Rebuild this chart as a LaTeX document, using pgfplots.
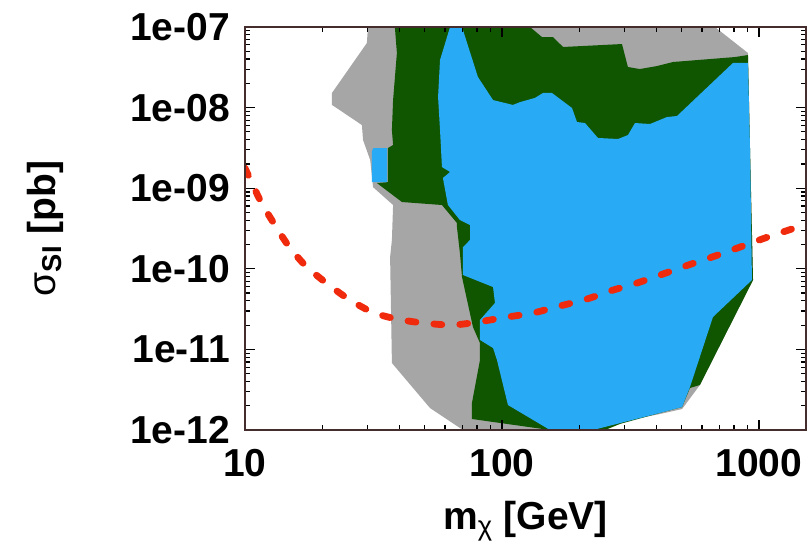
\documentclass[border=0pt]{standalone}
\usepackage{fontspec}
\setmainfont{Liberation Sans}
\usepackage{pgfplots}
\pgfplotsset{compat=1.18}
\definecolor{cgray}{RGB}{166,166,166}
\definecolor{cgreen}{RGB}{16,85,0}
\definecolor{cblue}{RGB}{40,170,245}
\definecolor{cred}{RGB}{240,42,12}
\definecolor{caxis}{RGB}{70,45,45}
\begin{document}
\begin{tikzpicture}
\path[use as bounding box] (-122.5pt,-64pt) rectangle (283pt,215pt);
\begin{axis}[
  at={(0,0)}, anchor=south west,
  scale only axis, width=280.5pt, height=201.5pt,
  xmode=log, ymode=log,
  xmin=10, xmax=1524, ymin=1e-12, ymax=1e-7,
  xtick={10,100,1000}, xticklabels={10,100,1000},
  ytick={1e-12,1e-11,1e-10,1e-9,1e-8,1e-7},
  yticklabels={1e-12,1e-11,1e-10,1e-09,1e-08,1e-07},
  minor xtick={20,30,40,50,60,70,80,90,200,300,400,500,600,700,800,900},
  minor ytick={2e-12,3e-12,4e-12,5e-12,6e-12,7e-12,8e-12,9e-12,
               2e-11,3e-11,4e-11,5e-11,6e-11,7e-11,8e-11,9e-11,
               2e-10,3e-10,4e-10,5e-10,6e-10,7e-10,8e-10,9e-10,
               2e-9,3e-9,4e-9,5e-9,6e-9,7e-9,8e-9,9e-9,
               2e-8,3e-8,4e-8,5e-8,6e-8,7e-8,8e-8,9e-8},
  tick align=inside, major tick length=5pt, minor tick length=2.5pt,
  axis line style={caxis, line width=0.8pt},
  every tick/.style={black, line width=0.6pt},
  axis on top,
  tick label style={font=\fontsize{19.5}{21}\selectfont\bfseries},
  yticklabel style={xshift=-4pt},
  xticklabel style={yshift=-6pt},
  label style={font=\fontsize{19.5}{21}\selectfont\bfseries},
  xlabel={m\textsubscript{\mdseries χ} [GeV]},
  ylabel={{\mdseries σ}\textsubscript{SI} [pb]},
  xlabel style={at={(axis description cs:0.5,-0.226)}, anchor=center},
  ylabel style={at={(axis description cs:-0.356,0.5)}, anchor=center},
]
% gray region
\addplot[fill=cgray, draw=none] coordinates {
(30.1,1e-7) (674,1e-7) (906,4.76e-8) (923,2.98e-9) (948,7.26e-11)
(589,3.62e-12) (502,1.82e-12) (412,1.58e-12) (315,1.33e-12) (263,1.12e-12)
(241,1e-12) (70.5,1e-12) (52.5,1.87e-12) (37.3,6.78e-12) (36.7,1.40e-10)
(37.3,2.28e-10) (37.7,6.19e-10) (31.5,1.03e-9) (30.7,2.24e-9) (28.8,3.96e-9)
(28.5,6.08e-9) (21.8,1.08e-8) (21.8,1.52e-8) (27.3,4.24e-8) (29.8,6.33e-8)
};
% green region
\addplot[fill=cgreen, draw=none] coordinates {
(38.3,1e-7) (128.5,1e-7) (143.1,7.51e-8) (157.9,7.51e-8) (172.8,5.65e-8)
(293,6.15e-8) (309,3.19e-8) (344,3.01e-8) (401,3.28e-8) (463,3.68e-8)
(806,4.24e-8) (906,4.49e-8) (923,2.98e-9) (948,7.26e-11) (589,3.62e-12)
(539,3.32e-12) (502,1.93e-12) (412,1.63e-12) (288,1.19e-12) (252,1e-12)
(153.8,1e-12) (76.4,1.37e-12) (76.4,2.16e-12) (82.1,7.39e-12) (82.1,1.20e-11)
(77.1,1.90e-11) (69.9,7.91e-11) (68.6,1.57e-10) (66.8,3.30e-10) (66.8,3.70e-10)
(58.4,6.19e-10) (40.8,6.74e-10) (32.6,1.16e-9) (36.0,1.19e-9) (36.0,3.15e-9)
(37.7,3.44e-9) (37.3,5.27e-9) (37.7,1.24e-8) (39.0,4.76e-8)
};
% blue region
\addplot[fill=cblue, draw=none] coordinates {
(62.8,1e-7) (69.9,1e-7) (80.6,2.40e-8) (92.3,1.24e-8) (110.3,1.08e-8)
(117.5,1.17e-8) (134.4,1.32e-8) (144.4,1.52e-8) (156.5,1.52e-8) (187.3,9.89e-9)
(195.8,6.63e-9) (210.4,6.44e-9) (236.3,4.20e-9) (282.8,4.08e-9) (309.2,4.57e-9)
(329.2,6.44e-9) (376.6,6.26e-9) (438.5,7.64e-9) (479.6,7.87e-9) (792,3.58e-8)
(906,3.58e-8) (923,2.98e-9) (939,7.26e-11) (662,2.52e-11) (539,3.42e-12)
(502,1.93e-12) (412,1.63e-12) (226,1e-12) (153.8,1e-12) (105.5,2.04e-12)
(95.6,7.39e-12) (92.3,1.04e-11) (82.1,1.31e-11) (82.1,2.32e-11) (93.9,3.77e-11)
(92.3,5.94e-11) (70.5,8.38e-11) (70.5,1.86e-10) (75.1,2.28e-10) (75.1,3.49e-10)
(68.6,4.03e-10) (61.6,6.19e-10) (58.9,1.34e-9) (62.8,1.59e-9) (58.4,1.83e-9)
(57.4,5.27e-9) (56.4,1.35e-8) (57.4,3.90e-8)
};
% small blue patch
\addplot[fill=cblue, draw=none] coordinates {
(31.6,3.15e-9) (35.7,3.15e-9) (35.7,1.19e-9) (31.2,1.19e-9) (31.2,2.9e-9)
};
% red dashed curve
\addplot[cred, line width=3.4pt, dash pattern=on 4pt off 9pt, line cap=round, smooth] coordinates {
(10,1.78e-9) (11.44,7.14e-10) (12.85,3.81e-10) (14.70,1.97e-10) (17.12,1.11e-10)
(20.48,6.86e-11) (24.94,4.34e-11) (31.2,2.91e-11) (39.0,2.38e-11) (49.3,2.13e-11)
(63.9,2.01e-11) (80.6,2.19e-11) (104.6,2.52e-11) (132.0,2.83e-11) (168.2,3.46e-11)
(214.2,4.22e-11) (263.1,5.30e-11) (335.2,6.66e-11) (423.2,8.62e-11) (529.3,1.11e-10)
(674.3,1.44e-10) (843.6,1.86e-10) (1055,2.41e-10) (1344,3.12e-10) (1524,3.49e-10)
};
\end{axis}
\end{tikzpicture}
\end{document}
